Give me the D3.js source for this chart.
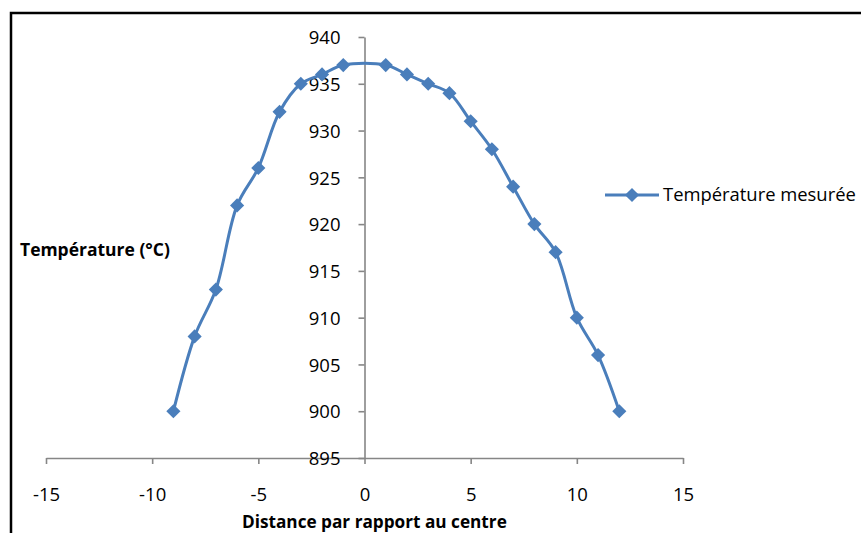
<!DOCTYPE html>
<html>
<head>
<meta charset="utf-8">
<script src="https://cdn.jsdelivr.net/npm/d3@7"></script>
<style>
  html, body { margin: 0; padding: 0; background: #fff; }
  svg { display: block; }
  text { font-family: "Open Sans", "Liberation Sans", sans-serif; fill: #000; }
</style>
</head>
<body>
<svg id="chart" width="861" height="533"></svg>
<script>
// ---- data ----
const distances = [-9, -8, -7, -6, -5, -4, -3, -2, -1, 1, 2, 3, 4, 5, 6, 7, 8, 9, 10, 11, 12];
const temperatures = [900, 908, 913, 922, 926, 932, 935, 936, 937, 937, 936, 935, 934, 931, 928, 924, 920, 917, 910, 906, 900];
const xTicks = [-15, -10, -5, 0, 5, 10, 15];
const yTicks = [895, 900, 905, 910, 915, 920, 925, 930, 935, 940];
const seriesName = "Température mesurée";
const xTitle = "Distance par rapport au centre";
const yTitle = "Température (°C)";

const color = "#4a7ebb";
const axisColor = "#868686";

const svg = d3.select("#chart");

// chart border (extends past the right/bottom edge)
svg.append("rect")
  .attr("x", 11).attr("y", 13)
  .attr("width", 1000).attr("height", 1000)
  .attr("fill", "#fff")
  .attr("stroke", "#000").attr("stroke-width", 2.5);

const x = d3.scaleLinear().domain([-15, 15]).range([46, 683]);
const y = d3.scaleLinear().domain([895, 940]).range([458, 37]);

const plainFormat = d => String(d);

// axes: they cross at x=0, y=895
const xAxis = svg.append("g")
  .attr("transform", `translate(0,${y(895)})`)
  .call(d3.axisBottom(x).tickValues(xTicks).tickSize(6).tickSizeOuter(0).tickFormat(plainFormat));
xAxis.selectAll("text").attr("y", 42.5).attr("dy", 0).style("font-size", "18.5px");

const yAxis = svg.append("g")
  .attr("transform", `translate(${x(0)},0)`)
  .call(d3.axisLeft(y).tickValues(yTicks).tickSize(6).tickSizeOuter(0).tickFormat(plainFormat));
yAxis.selectAll("text").attr("x", -24).attr("dy", "0.36em").style("font-size", "18.5px");

[xAxis, yAxis].forEach(g => {
  g.select(".domain").attr("stroke", axisColor).attr("stroke-width", 1.6);
  g.selectAll(".tick line").attr("stroke", axisColor).attr("stroke-width", 1.6);
  g.attr("font-family", null).attr("font-size", null);
  g.selectAll("text").attr("fill", "#000");
});

const pts = distances.map((d, i) => [d, temperatures[i]]);

const line = d3.line()
  .x(d => x(d[0]))
  .y(d => y(d[1]))
  .curve(d3.curveCatmullRom.alpha(0.5));

svg.append("path")
  .attr("d", line(pts))
  .attr("fill", "none")
  .attr("stroke", color)
  .attr("stroke-width", 3)
  .attr("stroke-linejoin", "round");

const diamond = d3.symbol().type(d3.symbolSquare).size(100);
svg.append("g").selectAll("path")
  .data(pts)
  .join("path")
  .attr("d", diamond)
  .attr("transform", d => `translate(${x(d[0])},${y(d[1])}) rotate(45)`)
  .attr("fill", color);

// fit helper: scale font so the text reaches a target width
function fit(sel, target) {
  const w = sel.node().getComputedTextLength();
  const fs = parseFloat(sel.style("font-size"));
  sel.style("font-size", (fs * target / w) + "px");
}

// axis titles
const xt = svg.append("text")
  .attr("x", 242).attr("y", 528)
  .style("font-weight", "bold").style("font-size", "15px")
  .text(xTitle);
fit(xt, 265);

const yt = svg.append("text")
  .attr("x", 20).attr("y", 256)
  .style("font-weight", "bold").style("font-size", "15px")
  .text(yTitle);
fit(yt, 150);

// legend
const legend = svg.append("g");
legend.append("line")
  .attr("x1", 605).attr("x2", 659).attr("y1", 195).attr("y2", 195)
  .attr("stroke", color).attr("stroke-width", 3);
legend.append("path")
  .attr("d", diamond)
  .attr("transform", "translate(632,195) rotate(45)")
  .attr("fill", color);
const lt = legend.append("text")
  .attr("x", 663).attr("y", 201)
  .style("font-size", "17px")
  .text(seriesName);
fit(lt, 193);
</script>
</body>
</html>
